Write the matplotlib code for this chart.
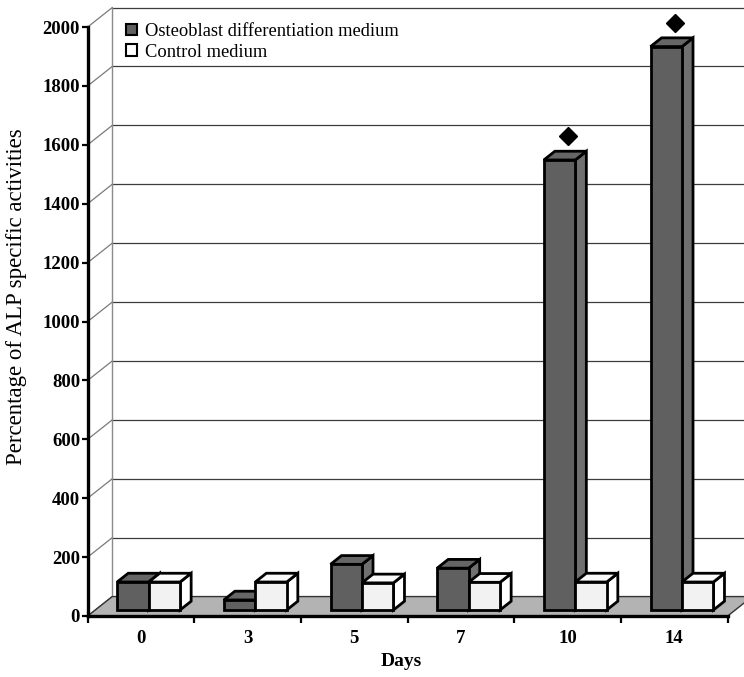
import matplotlib
matplotlib.use("Agg")
import matplotlib.pyplot as plt
from matplotlib.patches import Polygon, Patch

# ALP specific activity (% of day 0) per culture day
days = ["0", "3", "5", "7", "10", "14"]
osteo = [95, 34, 155, 142, 1528, 1913]
control = [95, 95, 92, 94, 95, 95]
significant = [False, False, False, False, True, True]
yticks = list(range(0, 2001, 200))

plt.rcParams['font.family'] = ['Liberation Serif', 'DejaVu Serif']

W, H = 744, 677
fig = plt.figure(figsize=(W / 100, H / 100), dpi=100)
ax = fig.add_axes([87.7 / W, 61 / H, 640 / W, 589 / H])
n = len(days)
ax.set_xlim(0, n)
ax.set_ylim(0, 2000)
ax.patch.set_visible(False)

# oblique depth projection: depth fraction z shifts right (category units) and up (value units)
DX = 0.23
DY = 66


def P(x, y, z):
    return (x + z * DX, y + z * DY)


def poly(pts, fc, ec='black', lw=2.0, z=3):
    ax.add_patch(Polygon(pts, closed=True, fc=fc, ec=ec, lw=lw, zorder=z,
                         clip_on=False, joinstyle='miter'))


# floor
poly([P(0, 0, 0), P(n, 0, 0), P(n, 0, 1), P(0, 0, 1)], '#b3b3b3', ec='#333333', lw=1.0, z=1)

# side wall diagonals and back wall gridlines
for v in yticks:
    ax.plot([0, DX], [v, v + DY], color='#7a7a7a', lw=0.9, zorder=0.5, clip_on=False)
    ax.plot([DX, n + DX], [v + DY, v + DY], color='#3c3c3c' if v else '#777777',
            lw=0.9, zorder=0.5, clip_on=False)
ax.plot([DX, DX], [DY, 2000 + DY], color='#8a8a8a', lw=1.0, zorder=0.5, clip_on=False)

BW = 0.295
Z0, Z1 = 0.31, 0.76


def box(x0, h, front, top, side):
    poly([P(x0 + BW, 0, Z0), P(x0 + BW, 0, Z1), P(x0 + BW, h, Z1), P(x0 + BW, h, Z0)], side)
    poly([P(x0, h, Z0), P(x0 + BW, h, Z0), P(x0 + BW, h, Z1), P(x0, h, Z1)], top)
    poly([P(x0, 0, Z0), P(x0 + BW, 0, Z0), P(x0 + BW, h, Z0), P(x0, h, Z0)], front)


for i in range(n):
    c = i + 0.5
    box(c - BW, osteo[i], '#606060', '#666666', '#707070')
    box(c, control[i], '#f2f2f2', '#fafafa', '#ffffff')
    if significant[i]:
        mx, _ = P(c - BW / 2, 0, 0.65)
        _, my = P(0, osteo[i] + 52, Z1)
        ax.plot([mx], [my], marker='D', ms=9, color='black', zorder=5, clip_on=False)

# front axes
for s in ('top', 'right'):
    ax.spines[s].set_visible(False)
for s in ('left', 'bottom'):
    ax.spines[s].set_linewidth(2.4)
    ax.spines[s].set_zorder(4)
ax.set_yticks(yticks)
ax.set_yticklabels([str(v) for v in yticks], fontweight='bold', fontsize=13.5)
ax.tick_params(axis='y', direction='out', length=4.5, width=1.6, pad=1)
ax.set_xticks(range(n + 1))
ax.set_xticklabels([''] * (n + 1))
ax.set_xticks([i + 0.5 for i in range(n)], minor=True)
ax.set_xticklabels(days, minor=True, fontweight='bold', fontsize=13.5)
ax.tick_params(axis='x', which='major', direction='out', length=5, width=1.6)
ax.tick_params(axis='x', which='minor', length=0, pad=10)

fig.text(401 / W, 1 - 662 / H, 'Days', ha='center', va='center',
         fontweight='bold', fontsize=14)
fig.text(17 / W, 1 - 297 / H, 'Percentage of ALP specific activities', rotation=90,
         ha='center', va='center', fontsize=16.5)

handles = [Patch(fc='#606060', ec='black', lw=1.5, label='Osteoblast differentiation medium'),
           Patch(fc='white', ec='black', lw=1.5, label='Control medium')]
fig.legend(handles=handles, loc='upper left', bbox_to_anchor=(126 / W, 1 - 23 / H),
           frameon=False, fontsize=13.3, handlelength=0.6, handleheight=0.6,
           handletextpad=0.45, labelspacing=0.2, borderaxespad=0, borderpad=0)

fig.savefig('out.png', dpi=100)
